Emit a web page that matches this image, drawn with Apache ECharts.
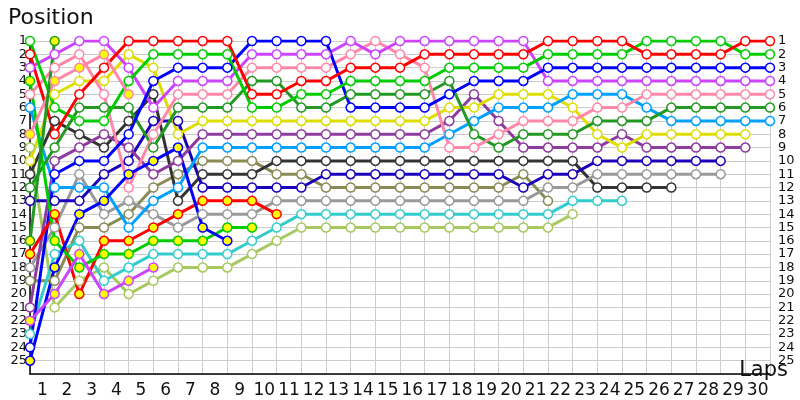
<!DOCTYPE html>
<html>
<head>
<meta charset="utf-8">
<script src="https://cdn.jsdelivr.net/npm/echarts@6/dist/echarts.min.js"></script>
<style>
  html, body { margin: 0; padding: 0; background: #fff; }
  #chart { width: 800px; height: 400px; }
</style>
</head>
<body>
<div id="chart"></div>
<script>
// lap labels on the x axis
const lapLabels = [];
for (let i = 1; i <= 30; i++) lapLabels.push(String(i));

// position at each lap, starting from the grid (lap 0)
const red        = [2,8,5,3,1,1,1,1,1,5,5,4,4,3,3,3,2,2,2,2,2,1,1,1,1,2,2,2,2,1,1];
const green      = [1,6,7,7,4,2,2,2,2,6,6,5,5,4,4,4,4,3,3,3,3,2,2,2,2,1,1,1,1,2,2];
const blue       = [24,11,10,10,8,4,3,3,3,1,1,1,1,6,6,6,6,5,4,4,4,3,3,3,3,3,3,3,3,3,3];
const purple     = [3,2,1,1,3,6,4,4,4,2,2,2,2,1,2,1,1,1,1,1,1,4,4,4,4,4,4,4,4,4,4];
const pink       = [5,3,2,5,12,8,5,5,5,3,3,3,3,2,1,2,3,9,9,8,7,7,7,6,6,5,5,5,5,5,5];
const darkGreen  = [12,9,6,6,6,9,6,6,6,4,4,6,6,5,5,5,5,4,8,9,8,8,8,7,7,7,6,6,6,6,6];
const lightBlue  = [6,12,12,12,15,13,12,9,9,9,9,9,9,9,9,9,9,8,7,6,6,6,5,5,5,6,7,7,7,7,7];
const yellow     = [10,5,4,4,2,3,8,7,7,7,7,7,7,7,7,7,7,6,6,5,5,5,6,8,9,8,8,8,8,8];
const darkPurple = [21,10,9,8,9,11,10,8,8,8,8,8,8,8,8,8,8,7,5,7,9,9,9,9,8,9,9,9,9,9];
const navy       = [13,13,13,11,10,7,7,12,12,12,12,12,11,11,11,11,11,11,11,11,12,11,11,10,10,10,10,10,10];
const gray       = [18,15,11,14,13,14,15,14,14,14,13,13,13,13,13,13,13,13,13,13,13,12,12,11,11,11,11,11,11];
const black      = [11,7,8,9,7,5,13,11,11,11,10,10,10,10,10,10,10,10,10,10,10,10,10,12,12,12,12];
const cyan       = [23,17,16,19,18,17,17,17,17,16,15,14,14,14,14,14,14,14,14,14,14,14,13,13,13];
const lightOlive = [9,21,19,18,20,19,18,18,18,17,16,15,15,15,15,15,15,15,15,15,15,15,14];
const olive      = [19,19,15,15,14,12,11,10,10,10,11,11,12,12,12,12,12,12,12,12,11,13];
// second cars (yellow markers)
const red2       = [17,14,20,16,16,15,14,13,13,13,14];
const green2     = [4,16,18,17,17,16,16,16,15,15];
const blue2      = [25,18,14,13,11,10,9,15,16];
const purple2    = [22,20,17,20,19,18];
const pink2      = [8,4,3,2,5];
const darkGreen2 = [16,1];

const drivers = [
  ['olive', olive, '#8a8a55', false],
  ['lightOlive', lightOlive, '#a8c860', false],
  ['cyan', cyan, '#33cccc', false],
  ['black', black, '#333333', false],
  ['gray', gray, '#999999', false],
  ['navy', navy, '#1a00bb', false],
  ['darkPurple', darkPurple, '#8e3c9e', false],
  ['yellow', yellow, '#dddd00', false],
  ['lightBlue', lightBlue, '#00a0ff', false],
  ['darkGreen', darkGreen, '#229922', false],
  ['pink', pink, '#ff88aa', false],
  ['purple', purple, '#cc44ff', false],
  ['blue', blue, '#0000ff', false],
  ['green', green, '#00cc00', false],
  ['red', red, '#ff0000', false],
  ['red2', red2, '#ff0000', true],
  ['green2', green2, '#00cc00', true],
  ['blue2', blue2, '#0000ff', true],
  ['purple2', purple2, '#cc44ff', true],
  ['pink2', pink2, '#ff88aa', true],
  ['darkGreen2', darkGreen2, '#229922', true]
];

const series = drivers.map(function (d) {
  return {
    name: d[0],
    type: 'line',
    xAxisIndex: 0,
    yAxisIndex: 0,
    data: d[1].map(function (p, i) { return [i, p]; }),
    symbol: 'circle',
    symbolSize: 9,
    lineStyle: { color: d[2], width: 3 },
    itemStyle: { color: d[3] ? '#ffff00' : '#ffffff', borderColor: d[2], borderWidth: 1.5 },
    emphasis: { disabled: true }
  };
});

const labelFont = 'DejaVu Sans';
const chart = echarts.init(document.getElementById('chart'));
chart.setOption({
  animation: false,
  title: [
    { text: 'Position', left: 3, top: 2, textStyle: { fontFamily: labelFont, fontSize: 22, fontWeight: 'normal', color: '#111' } },
    { text: 'Laps', right: 7, top: 355, textStyle: { fontFamily: labelFont, fontSize: 21, fontWeight: 'normal', color: '#111' } }
  ],
  grid: { left: 30, right: 30, top: 41, bottom: 26 },
  xAxis: [
    {
      type: 'value', min: 0, max: 30, interval: 1,
      axisLine: { show: true, lineStyle: { color: '#000', width: 1.5 } },
      axisTick: { show: false },
      axisLabel: { show: false },
      splitLine: { show: true, lineStyle: { color: '#cccccc', width: 1 } }
    },
    {
      type: 'category', data: lapLabels, boundaryGap: true, position: 'bottom',
      axisLine: { show: false }, axisTick: { show: false }, splitLine: { show: false },
      axisLabel: { fontFamily: labelFont, fontSize: 17, color: '#111', margin: 8, interval: 0 }
    }
  ],
  yAxis: [
    {
      type: 'value', min: 1, max: 26, interval: 1, inverse: true,
      axisLine: { show: true, lineStyle: { color: '#000', width: 1.5 } },
      axisTick: { show: false },
      splitLine: { show: true, lineStyle: { color: '#cccccc', width: 1 } },
      axisLabel: { fontFamily: labelFont, fontSize: 13, color: '#111', margin: 3,
        formatter: function (v) { return v <= 25 ? v : ''; } }
    },
    {
      type: 'value', min: 1, max: 26, interval: 1, inverse: true, position: 'right',
      axisLine: { show: false }, axisTick: { show: false }, splitLine: { show: false },
      axisLabel: { fontFamily: labelFont, fontSize: 13, color: '#111', margin: 8,
        formatter: function (v) { return v <= 25 ? v : ''; } }
    }
  ],
  series: series
});
</script>
</body>
</html>
